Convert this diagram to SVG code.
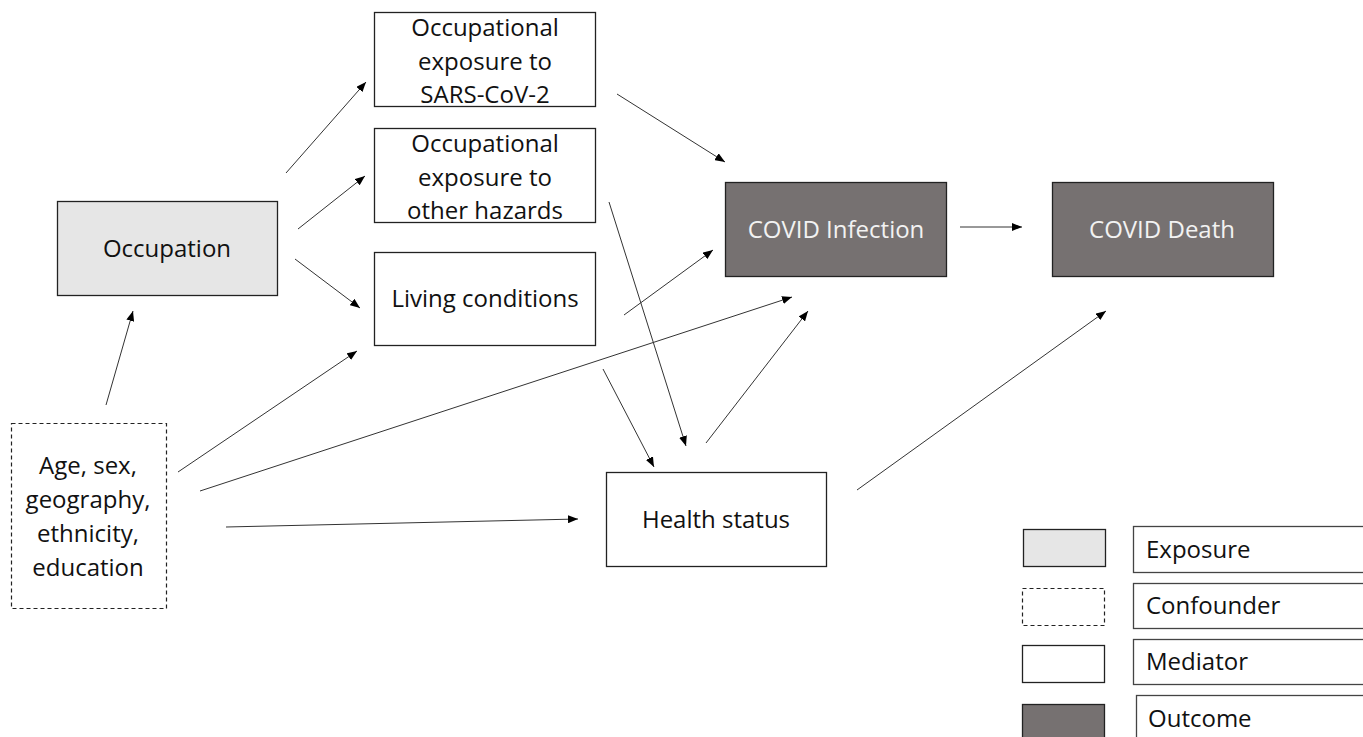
<svg xmlns="http://www.w3.org/2000/svg" width="1363" height="737" viewBox="0 0 1363 737">
<style>
.box{fill:#fff;stroke:#222;stroke-width:1.3}
.exp{fill:#e6e6e6;stroke:#222;stroke-width:1.3}
.out{fill:#767171;stroke:#222;stroke-width:1.3}
.conf{fill:#fff;stroke:#222;stroke-width:1.2;stroke-dasharray:4 3}
.lab{fill:#fff;stroke:#444;stroke-width:1.3}
text{font-family:"Open Sans","Liberation Sans",sans-serif;font-size:24px;fill:#111;dominant-baseline:central}
.c{text-anchor:middle}
.w{fill:#f2f2f2}
.cn line{stroke:#333;stroke-width:1;marker-end:url(#ah)}
</style>
<defs>
<marker id="ah" viewBox="0 0 10 8" refX="10" refY="4" markerWidth="10" markerHeight="8" markerUnits="userSpaceOnUse" orient="auto">
<path d="M0,0 L10,4 L0,8 z" fill="#000"/>
</marker>
</defs>
<g class="cn" id="connectors">
<line x1="286" y1="173" x2="366" y2="82"/>
<line x1="298" y1="229" x2="365" y2="176"/>
<line x1="295" y1="259" x2="360" y2="308"/>
<line x1="106" y1="405" x2="133" y2="311"/>
<line x1="178" y1="472" x2="357" y2="351"/>
<line x1="200" y1="491" x2="792" y2="297"/>
<line x1="226" y1="527" x2="578" y2="519"/>
<line x1="617" y1="94" x2="725" y2="162"/>
<line x1="609" y1="202" x2="686" y2="446"/>
<line x1="624" y1="315" x2="713" y2="250"/>
<line x1="603" y1="369" x2="654" y2="467"/>
<line x1="706" y1="443" x2="808" y2="311"/>
<line x1="857" y1="490" x2="1106" y2="311"/>
<line x1="960" y1="227" x2="1022" y2="227"/>
</g>
<g id="sars"><rect class="box" x="374.5" y="12.5" width="221" height="94"/>
<text class="c" x="485" y="26">Occupational</text><text class="c" x="485" y="60">exposure to</text><text class="c" x="485" y="93">SARS-CoV-2</text></g>
<g id="hazards"><rect class="box" x="374.5" y="128.5" width="221" height="94"/>
<text class="c" x="485" y="142">Occupational</text><text class="c" x="485" y="176">exposure to</text><text class="c" x="485" y="209">other hazards</text></g>
<g id="living"><rect class="box" x="374.5" y="252.5" width="221" height="93"/>
<text class="c" x="485" y="297">Living conditions</text></g>
<g id="occupation"><rect class="exp" x="57.5" y="201.5" width="220" height="94"/>
<text class="c" x="167" y="247">Occupation</text></g>
<g id="confounders"><rect class="conf" x="11.5" y="423.5" width="155" height="185"/>
<text class="c" x="88" y="464">Age, sex,</text><text class="c" x="88" y="498">geography,</text><text class="c" x="88" y="532">ethnicity,</text><text class="c" x="88" y="566">education</text></g>
<g id="health"><rect class="box" x="606.5" y="472.5" width="220" height="94"/>
<text class="c" x="716" y="518">Health status</text></g>
<g id="infection"><rect class="out" x="725.5" y="182.5" width="221" height="94"/>
<text class="c w" x="836" y="228">COVID Infection</text></g>
<g id="death"><rect class="out" x="1052.5" y="182.5" width="221" height="94"/>
<text class="c w" x="1162" y="228">COVID Death</text></g>
<g id="legend">
<rect class="exp" x="1023.5" y="529.5" width="82" height="37"/>
<rect class="conf" x="1022.5" y="588.5" width="82" height="37"/>
<rect class="box" x="1022.5" y="645.5" width="82" height="37"/>
<rect class="out" x="1022.5" y="704.5" width="82" height="40"/>
<rect class="lab" x="1133.5" y="526.5" width="235" height="46"/>
<rect class="lab" x="1133.5" y="583.5" width="235" height="45"/>
<rect class="lab" x="1133.5" y="639.5" width="235" height="45"/>
<rect class="lab" x="1136.5" y="695.5" width="235" height="50"/>
<text x="1146" y="548">Exposure</text>
<text x="1146" y="604">Confounder</text>
<text x="1146" y="660">Mediator</text>
<text x="1148" y="717">Outcome</text>
</g>
</svg>
